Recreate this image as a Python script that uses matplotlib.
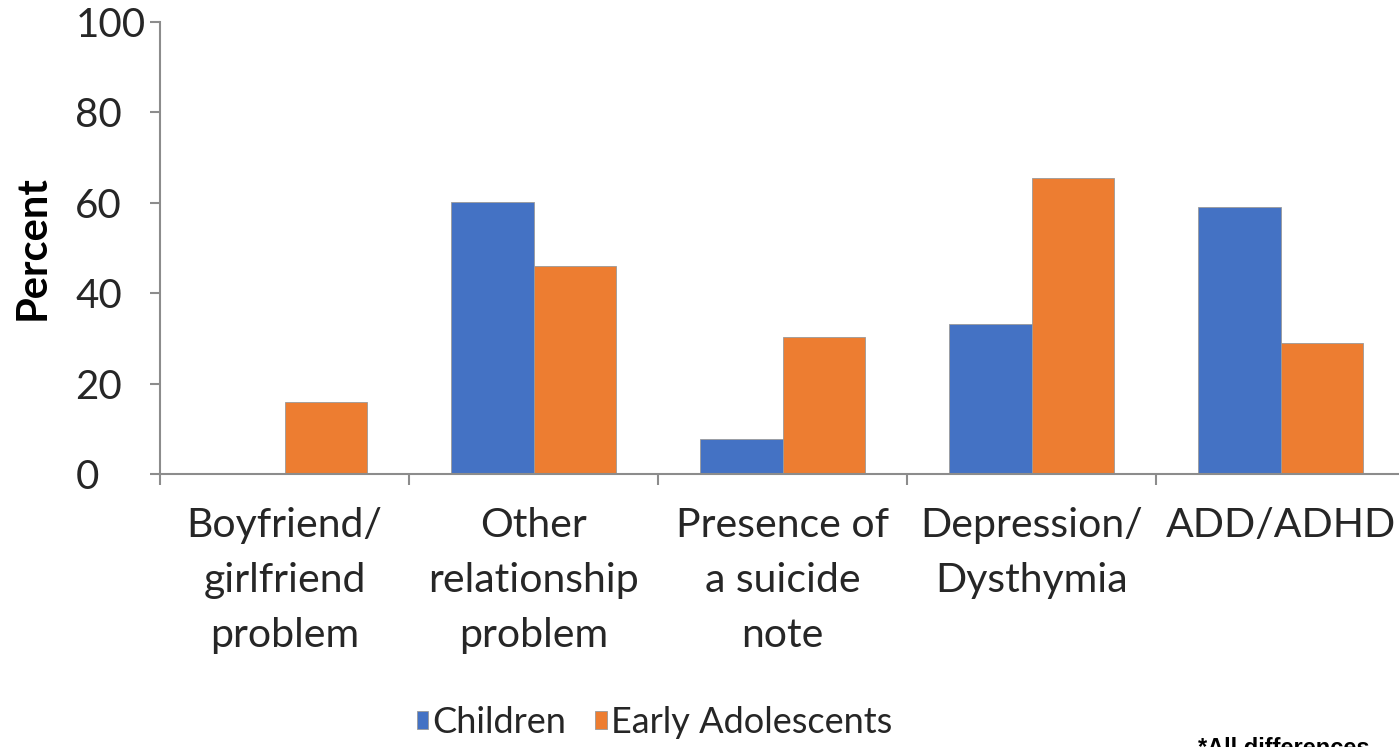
import numpy as np
import matplotlib.pyplot as plt

categories = ["Boyfriend/\ngirlfriend\nproblem", "Other\nrelationship\nproblem",
              "Presence of\na suicide\nnote", "Depression/\nDysthymia", "ADD/ADHD"]
children = [0, 60.1, 7.7, 33.2, 59.1]
early_adolescents = [15.9, 45.9, 30.2, 65.5, 29.0]
series_names = ["Children", "Early Adolescents"]
y_ticks = [0, 20, 40, 60, 80, 100]

BLUE = "#4472C4"
ORANGE = "#ED7D31"
AXIS_GRAY = "#8c8c8c"
TEXT = "#262626"

plt.rcParams["font.family"] = ["Lato", "DejaVu Sans"]

fig = plt.figure(figsize=(13.99, 7.47), dpi=100)
ax = fig.add_axes([0.1144, 0.3655, 0.8899, 0.6051])

x = np.arange(len(categories))
w = 0.333
ax.bar(x - w / 2, children, w, color=BLUE, edgecolor="#9a9a9a", linewidth=0.6,
       label=series_names[0], zorder=2)
ax.bar(x + w / 2, early_adolescents, w, color=ORANGE, edgecolor="#9a9a9a", linewidth=0.6,
       label=series_names[1], zorder=2)

ax.set_xlim(-0.5, len(categories) - 0.5)
ax.set_ylim(0, 100)

for s in ["top", "right"]:
    ax.spines[s].set_visible(False)
for s in ["left", "bottom"]:
    ax.spines[s].set_color(AXIS_GRAY)
    ax.spines[s].set_linewidth(1.5)

ax.set_yticks(y_ticks)
ax.set_yticklabels([str(v) for v in y_ticks])
ax.tick_params(axis="y", length=7, width=1.5, color=AXIS_GRAY, pad=54,
               labelsize=29, labelcolor=TEXT)
for lbl in ax.get_yticklabels():
    lbl.set_horizontalalignment("left")

ax.set_xticks(x)
ax.set_xticklabels(categories, linespacing=1.6)
ax.tick_params(axis="x", which="major", length=0, pad=24, labelsize=29.5, labelcolor=TEXT)
ax.set_xticks(np.arange(len(categories) + 1) - 0.5, minor=True)
ax.tick_params(axis="x", which="minor", length=8, width=1.5, color=AXIS_GRAY)

# y-axis title placed in figure coordinates
fig.text(0.0236, 0.668, "Percent", rotation=90, ha="center", va="center",
         fontsize=30, fontweight="bold", color="black")

fig.legend(loc="center", bbox_to_anchor=(0.468, 0.033), ncol=2, frameon=False,
           fontsize=26, handlelength=0.32, handleheight=0.42, handletextpad=0.12,
           columnspacing=0.8, labelcolor=TEXT)

# footnote sits at the bottom edge of the figure
fig.text(0.856, 0.0134, "*All differences", ha="left", va="top",
         fontsize=17, fontweight="bold", family="Liberation Sans")

fig.savefig("out.png", dpi=100)
